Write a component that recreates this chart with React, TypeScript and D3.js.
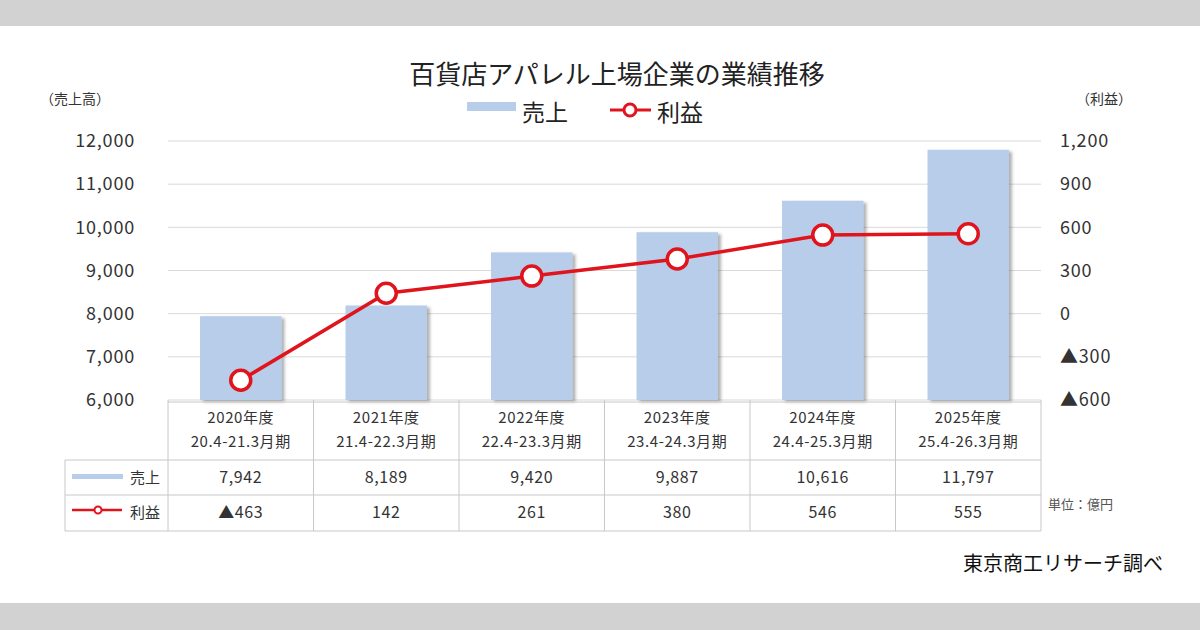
import * as d3 from "d3";
import { useEffect, useRef } from "react";

// fiscal years and periods (table header)
const years = ["2020年度", "2021年度", "2022年度", "2023年度", "2024年度", "2025年度"];
const periods = ["20.4-21.3月期", "21.4-22.3月期", "22.4-23.3月期", "23.4-24.3月期", "24.4-25.3月期", "25.4-26.3月期"];

// 売上 (億円) and 利益 (億円)
const sales = [7942, 8189, 9420, 9887, 10616, 11797];
const profit = [-463, 142, 261, 380, 546, 555];

const salesTicks = [6000, 7000, 8000, 9000, 10000, 11000, 12000];
const profitTicks = [-600, -300, 0, 300, 600, 900, 1200];

const FONT = "'Noto Sans CJK JP', 'Noto Sans', sans-serif";
const BAR = "#b7cdea";
const RED = "#e0141c";
const GRID = "#d9d9d9";
const TEXT = "#333";

const fmtProfit = (v: number) => (v < 0 ? "▲" + d3.format(",")(-v) : d3.format(",")(v));

export default function App() {
    const svgRef = useRef<SVGSVGElement>(null);

    const width = 1200;
    const height = 630;
    const margin = { top: 141, right: 159, bottom: 230, left: 168 };
    const innerWidth = width - margin.left - margin.right;
    const innerHeight = height - margin.top - margin.bottom;

    useEffect(() => {
        const svg = d3.select(svgRef.current);
        svg.selectAll("*").remove();

        // background bands
        svg.append("rect").attr("width", width).attr("height", height).attr("fill", "#d2d2d2");
        svg.append("rect").attr("y", 26).attr("width", width).attr("height", 577).attr("fill", "#fff");

        const defs = svg.append("defs");
        const f = defs.append("filter").attr("id", "shadow").attr("x", "-10%").attr("y", "-10%").attr("width", "130%").attr("height", "130%");
        f.append("feDropShadow").attr("dx", 3).attr("dy", 2).attr("stdDeviation", 1.8)
            .attr("flood-color", "#555").attr("flood-opacity", 0.45);

        // title
        svg.append("text").attr("x", 617).attr("y", 84).attr("text-anchor", "middle")
            .attr("font-family", FONT).attr("font-size", 26).attr("fill", "#222")
            .text("百貨店アパレル上場企業の業績推移");

        // legend
        const lg = svg.append("g").attr("font-family", FONT).attr("font-size", 23).attr("fill", "#222");
        lg.append("rect").attr("x", 467).attr("y", 102).attr("width", 49).attr("height", 9).attr("fill", BAR);
        lg.append("text").attr("x", 522).attr("y", 121).text("売上");
        lg.append("line").attr("x1", 610).attr("x2", 651).attr("y1", 110).attr("y2", 110)
            .attr("stroke", RED).attr("stroke-width", 3);
        lg.append("circle").attr("cx", 630).attr("cy", 110).attr("r", 6)
            .attr("fill", "#fff").attr("stroke", RED).attr("stroke-width", 3);
        lg.append("text").attr("x", 657).attr("y", 121).text("利益");

        // axis titles
        svg.append("text").attr("x", 40).attr("y", 104).attr("font-family", FONT).attr("font-size", 14)
            .attr("fill", TEXT).text("（売上高）");
        svg.append("text").attr("x", 1076).attr("y", 104).attr("font-family", FONT).attr("font-size", 14)
            .attr("fill", TEXT).text("（利益）");

        const g = svg.append("g").attr("transform", `translate(${margin.left},${margin.top})`);

        const x = d3.scaleBand<string>().domain(years).range([0, innerWidth]).paddingInner(0.44).paddingOuter(0.22);
        const xc = d3.scaleBand<string>().domain(years).range([0, innerWidth]);
        const yL = d3.scaleLinear().domain([6000, 12000]).range([innerHeight, 0]);
        const yR = d3.scaleLinear().domain([-600, 1200]).range([innerHeight, 0]);

        // gridlines
        g.append("g").selectAll("line").data(salesTicks).join("line")
            .attr("x1", 0).attr("x2", innerWidth)
            .attr("y1", d => yL(d)).attr("y2", d => yL(d))
            .attr("stroke", GRID).attr("stroke-width", 1);

        // left axis
        const axL = g.append("g").call(d3.axisLeft(yL).tickValues(salesTicks).tickFormat(d3.format(",")).tickSize(0).tickPadding(33));
        axL.select(".domain").remove();
        axL.selectAll("text").attr("font-family", FONT).attr("font-size", 18).attr("letter-spacing", 0.8).attr("fill", TEXT);

        // right axis
        const axR = g.append("g").attr("transform", `translate(${innerWidth},0)`)
            .call(d3.axisRight(yR).tickValues(profitTicks).tickFormat(d => fmtProfit(d as number)).tickSize(0).tickPadding(19));
        axR.select(".domain").remove();
        axR.selectAll("text").attr("font-family", FONT).attr("font-size", 18).attr("letter-spacing", 0.8).attr("fill", TEXT);

        // bars
        g.append("g").selectAll("rect").data(sales).join("rect")
            .attr("x", (_, i) => x(years[i])!)
            .attr("width", x.bandwidth())
            .attr("y", d => yL(d))
            .attr("height", d => innerHeight - yL(d))
            .attr("fill", BAR)
            .attr("filter", "url(#shadow)");

        // profit line
        const line = d3.line<number>()
            .x((_, i) => xc(years[i])! + xc.bandwidth() / 2)
            .y(d => yR(d));
        g.append("path").datum(profit).attr("d", line)
            .attr("fill", "none").attr("stroke", RED).attr("stroke-width", 3.5);
        g.append("g").selectAll("circle").data(profit).join("circle")
            .attr("cx", (_, i) => xc(years[i])! + xc.bandwidth() / 2)
            .attr("cy", d => yR(d))
            .attr("r", 10)
            .attr("fill", "#fff").attr("stroke", RED).attr("stroke-width", 3.5);

        // data table
        const tb = g.append("g").attr("transform", `translate(0,${innerHeight})`);
        const TBL = "#c8c8c8";
        const rowY = [2, 60, 95, 131];
        const leftX = 65 - margin.left;
        tb.append("line").attr("x1", 0).attr("x2", innerWidth).attr("y1", rowY[0]).attr("y2", rowY[0]).attr("stroke", TBL);
        rowY.slice(1).forEach(yy => {
            tb.append("line").attr("x1", leftX).attr("x2", innerWidth).attr("y1", yy).attr("y2", yy).attr("stroke", TBL);
        });
        tb.append("line").attr("x1", leftX).attr("x2", leftX).attr("y1", rowY[1]).attr("y2", rowY[3]).attr("stroke", TBL);
        tb.selectAll("line.v").data([...years, "end"]).join("line").attr("class", "v")
            .attr("x1", (_, i) => i * xc.bandwidth()).attr("x2", (_, i) => i * xc.bandwidth())
            .attr("y1", 0).attr("y2", rowY[3]).attr("stroke", TBL);

        const cell = (txt: string, cx: number, cy: number, size = 15) =>
            tb.append("text").attr("x", cx).attr("y", cy).attr("text-anchor", "middle")
                .attr("font-family", FONT).attr("font-size", size).attr("letter-spacing", 0.6)
                .attr("fill", TEXT).text(txt);

        years.forEach((yr, i) => {
            const cx = xc(yr)! + xc.bandwidth() / 2;
            cell(yr, cx, 23);
            cell(periods[i], cx, 47);
            cell(d3.format(",")(sales[i]), cx, 83, 16);
            cell(fmtProfit(profit[i]), cx, 118, 16);
        });

        // row legends
        tb.append("rect").attr("x", 72 - margin.left).attr("y", 74).attr("width", 51).attr("height", 5).attr("fill", BAR);
        tb.append("text").attr("x", -8).attr("y", 83).attr("text-anchor", "end")
            .attr("font-family", FONT).attr("font-size", 15).attr("fill", TEXT).text("売上");
        tb.append("line").attr("x1", 72 - margin.left).attr("x2", 122 - margin.left).attr("y1", 110).attr("y2", 110)
            .attr("stroke", RED).attr("stroke-width", 2.5);
        tb.append("circle").attr("cx", 98 - margin.left).attr("cy", 110).attr("r", 3.5)
            .attr("fill", "#fff").attr("stroke", RED).attr("stroke-width", 2);
        tb.append("text").attr("x", -8).attr("y", 118).attr("text-anchor", "end")
            .attr("font-family", FONT).attr("font-size", 15).attr("fill", TEXT).text("利益");

        // unit and source
        svg.append("text").attr("x", 1048).attr("y", 509).attr("font-family", FONT).attr("font-size", 13)
            .attr("fill", "#555").text("単位：億円");
        svg.append("text").attr("x", 1163).attr("y", 571).attr("text-anchor", "end").attr("font-family", FONT)
            .attr("font-size", 20).attr("fill", "#111").text("東京商工リサーチ調べ");
    }, [innerHeight, innerWidth, margin.left, margin.top]);

    return (
        <div style={{ position: "absolute", left: 0, top: 0 }}>
            <svg ref={svgRef} width={width} height={height} style={{ display: "block" }} />
        </div>
    );
}
